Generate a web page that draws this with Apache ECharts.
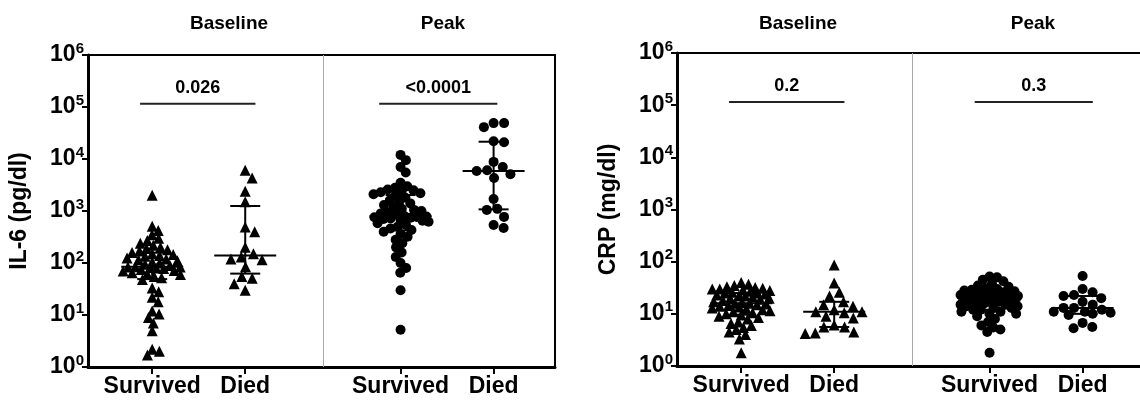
<!DOCTYPE html>
<html>
<head>
<meta charset="utf-8">
<script src="https://cdn.jsdelivr.net/npm/echarts@6/dist/echarts.min.js"></script>
<style>
html,body{margin:0;padding:0;background:#fff}
#main{width:1140px;height:404px}
</style>
</head>
<body>
<div id="main"></div>
<script>
// categories / labels
var groupNames = ["Survived", "Died", "Survived", "Died"];
var phaseNames = ["Baseline", "Peak"];
var yTickValues = [1, 10, 100, 1000, 10000, 100000, 1000000];

// IL-6 (pg/dl)
var il6BaseSurvived = [1.7, 2.0, 2.2, 5, 7, 9, 10.5, 12, 18, 22, 28, 33, 48, 52, 55, 60, 62, 65, 70, 72, 75, 78, 80, 82, 84, 84,
  85, 90, 95, 100, 105, 110, 115, 120, 125, 135, 140, 145, 150, 160, 170, 180, 190, 200, 220, 240, 270, 300, 350, 420, 510, 2000];
var il6BaseDied = [6100, 4300, 2400, 1500, 490, 400, 200, 150, 130, 120, 115, 85, 55, 51, 40, 30];
var il6PeakSurvived = [5.2, 30, 65, 80, 100, 130, 160, 200, 240, 280, 320, 360, 400, 430, 460, 500, 540, 580, 620, 650, 680,
  700, 720, 740, 760, 770, 780, 800, 850, 900, 950, 1000, 1050, 1100, 1200, 1300, 1400, 1500, 1600, 1800, 2000, 2100, 2200,
  2300, 2400, 2500, 2600, 2800, 3000, 3500, 5500, 7000, 9500, 12000];
var il6PeakDied = [49000, 41000, 49000, 21000, 22000, 8800, 7000, 5900, 5100, 6100, 4300, 1700, 1100, 1050, 770, 540, 470];
var il6PValues = ["0.026", "<0.0001"];

// CRP (mg/dl)
var crpBaseSurvived = [1.8, 3.3, 4.0, 4.5, 5.0, 5.5, 6.0, 6.5, 7.0, 8.0, 8.5, 9.0, 9.5, 10, 10.5, 11, 11.5, 12, 12.5, 13, 13.5,
  14, 14.5, 15, 15.5, 16, 16, 16.5, 17, 18, 19, 20, 20, 21, 22, 22, 23, 24, 25, 25, 26, 27, 28, 29, 30, 30, 31, 32, 33, 35, 37, 40];
var crpBaseDied = [86, 39, 26, 22, 17, 15, 14, 12, 11, 11, 10.5, 9, 8.3, 6.1, 5.6, 5.6, 4.5, 4.3, 4.2];
var crpPeakSurvived = [1.8, 4.5, 5, 5.5, 6, 7, 8, 9, 10, 10, 11, 11, 12, 12, 13, 13, 14, 14, 15, 15, 16, 16, 17, 17, 18, 18, 18,
  19, 19, 20, 20, 21, 21, 22, 22, 23, 23, 24, 25, 25, 26, 27, 28, 29, 30, 31, 33, 35, 38, 42, 45, 50, 52];
var crpPeakDied = [53, 30, 26, 23, 22, 20, 17, 15, 13, 13, 12, 11, 11, 10.5, 10, 9.5, 6.7, 5.6, 5.3];
var crpPValues = ["0.2", "0.3"];

// layout (x axis units, 1 unit = spacing between Survived and Died)
var GROUP_X = [0.69, 1.69, 3.36, 4.36];
var DIVIDER_X = 2.53;
var X_MAX = 5.02;
var SIG_SPANS = [
  [[0.56, 1.80], [3.13, 4.40]],
  [[0.56, 1.80], [3.20, 4.47]]
];
var SIG_Y = 115000;
var SWARM_HALF = 29;
var FONT = "'Liberation Sans', Arial, Helvetica, sans-serif";

var panels = [
  {name: "IL-6 (pg/dl)", groups: [il6BaseSurvived, il6BaseDied, il6PeakSurvived, il6PeakDied], p: il6PValues},
  {name: "CRP (mg/dl)", groups: [crpBaseSurvived, crpBaseDied, crpPeakSurvived, crpPeakDied], p: crpPValues}
];

var chart = echarts.init(document.getElementById("main"));

function quantile(arr, p) {
  var s = arr.slice().sort(function (a, b) { return a - b; });
  var pos = (s.length + 1) * p;
  if (pos <= 1) return s[0];
  if (pos >= s.length) return s[s.length - 1];
  var lo = Math.floor(pos);
  return s[lo - 1] + (pos - lo) * (s[lo] - s[lo - 1]);
}

// simple beeswarm: offsets in px, same order as values, kept within +-maxW
function swarm(values, yPx, d, maxW) {
  var pts = values.map(function (v, i) { return {i: i, y: yPx(v)}; });
  pts.sort(function (a, b) { return a.y - b.y; });
  var placed = [], out = [];
  pts.forEach(function (p) {
    var cands = [0];
    placed.forEach(function (q) {
      var dy = Math.abs(q.y - p.y);
      if (dy < d) {
        var dx = Math.sqrt(d * d - dy * dy);
        cands.push(q.x + dx, q.x - dx);
      }
    });
    for (var w = -maxW; w <= maxW; w += 3) cands.push(w);
    cands = cands.filter(function (c) { return Math.abs(c) <= maxW; });
    cands.sort(function (a, b) { return Math.abs(a) - Math.abs(b); });
    var best = null, bestGap = -1, bestC = 0;
    for (var k = 0; k < cands.length; k++) {
      var c = cands[k], gap = Infinity;
      for (var m = 0; m < placed.length; m++) {
        var ddx = placed[m].x - c, ddy = placed[m].y - p.y;
        gap = Math.min(gap, Math.sqrt(ddx * ddx + ddy * ddy));
      }
      if (gap >= d - 0.01) { best = c; break; }
      if (gap > bestGap) { bestGap = gap; bestC = c; }
    }
    if (best === null) best = bestC;
    placed.push({x: best, y: p.y});
    out[p.i] = best;
  });
  return out;
}

function supLabel(v) {
  var e = Math.round(Math.log(v) / Math.LN10);
  return "{b|10}{s|" + e + "}";
}

var grids = [], xAxes = [], yAxes = [];
[88, 677].forEach(function (left, gi) {
  grids.push({
    left: left, top: gi === 0 ? 55 : 53, width: 467, height: gi === 0 ? 312 : 313,
    show: true, borderColor: "#000", borderWidth: 2, backgroundColor: "transparent",
    outerBoundsMode: "none", containLabel: false
  });
  xAxes.push({
    type: "value", gridIndex: gi, min: 0, max: X_MAX,
    splitLine: {show: false},
    axisLine: {lineStyle: {color: "#000", width: 3}},
    axisTick: {show: true, customValues: GROUP_X, length: 7, lineStyle: {color: "#000", width: 2}},
    axisLabel: {
      customValues: GROUP_X, margin: 8, color: "#000", fontFamily: FONT, fontWeight: "bold", fontSize: 23,
      formatter: function (v) {
        var best = 0;
        GROUP_X.forEach(function (g, i) { if (Math.abs(g - v) < Math.abs(GROUP_X[best] - v)) best = i; });
        return groupNames[best];
      }
    }
  });
  yAxes.push({
    type: "log", logBase: 10, gridIndex: gi, min: yTickValues[0], max: yTickValues[yTickValues.length - 1],
    name: panels[gi].name, nameLocation: "middle", nameGap: 57,
    nameTextStyle: {color: "#000", fontFamily: FONT, fontWeight: "bold", fontSize: 23},
    splitLine: {show: false}, minorTick: {show: false},
    axisLine: {show: true, lineStyle: {color: "#000", width: 3}},
    axisTick: {show: true, length: 6, lineStyle: {color: "#000", width: 2}},
    axisLabel: {
      margin: 4, color: "#000", formatter: supLabel,
      rich: {
        b: {fontFamily: FONT, fontWeight: "bold", fontSize: 23, color: "#000"},
        s: {fontFamily: FONT, fontWeight: "bold", fontSize: 15, color: "#000", verticalAlign: "bottom", padding: [0, 0, 13, 0]}
      }
    }
  });
});

var titles = [];
[[224, 438], [793, 1028]].forEach(function (xs) {
  xs.forEach(function (x, i) {
    titles.push({text: phaseNames[i], left: x, top: 9, textAlign: "center",
      textStyle: {color: "#000", fontFamily: FONT, fontWeight: "bold", fontSize: 19}});
  });
});

chart.setOption({
  animation: false,
  backgroundColor: "#fff",
  title: titles,
  grid: grids,
  xAxis: xAxes,
  yAxis: yAxes,
  series: []
});

function renderBars(params, api) {
  var x = api.value(0);
  var mid = api.coord([x, api.value(1)]);
  var lo = api.coord([x, api.value(2)]);
  var hi = api.coord([x, api.value(3)]);
  var st = {stroke: "#000", lineWidth: 2};
  return {type: "group", children: [
    {type: "line", shape: {x1: mid[0], y1: hi[1], x2: mid[0], y2: lo[1]}, style: st},
    {type: "line", shape: {x1: mid[0] - 31, y1: mid[1], x2: mid[0] + 31, y2: mid[1]}, style: st},
    {type: "line", shape: {x1: mid[0] - 15, y1: hi[1], x2: mid[0] + 15, y2: hi[1]}, style: st},
    {type: "line", shape: {x1: mid[0] - 15, y1: lo[1], x2: mid[0] + 15, y2: lo[1]}, style: st}
  ]};
}

function makeSigRender(labels) {
  return function (params, api) {
    var a = api.coord([api.value(0), api.value(2)]);
    var b = api.coord([api.value(1), api.value(2)]);
    var txt = labels[params.dataIndex];
    return {type: "group", children: [
      {type: "line", shape: {x1: a[0], y1: a[1], x2: b[0], y2: b[1]}, style: {stroke: "#222", lineWidth: 2}},
      {type: "text", x: (a[0] + b[0]) / 2, y: a[1] - 7,
        style: {text: txt, fill: "#000", font: "bold 18px " + FONT,
          align: "center", verticalAlign: "bottom", textAlign: "center", textVerticalAlign: "bottom"}}
    ]};
  };
}

var series = [];
panels.forEach(function (panel, gi) {
  var x0 = chart.convertToPixel({gridIndex: gi}, [0, 1])[0];
  var x1 = chart.convertToPixel({gridIndex: gi}, [1, 1])[0];
  var pxPerUnit = x1 - x0;
  var yPx = function (v) { return chart.convertToPixel({gridIndex: gi}, [0, v])[1]; };
  var barData = [];
  panel.groups.forEach(function (vals, k) {
    var offs = swarm(vals, yPx, vals.length > 30 ? 7.5 : 10.5, SWARM_HALF);
    var data = vals.map(function (v, i) { return [GROUP_X[k] + offs[i] / pxPerUnit, v]; });
    var isBase = k < 2;
    series.push({
      type: "scatter", xAxisIndex: gi, yAxisIndex: gi, data: data,
      symbol: isBase ? "triangle" : "circle", symbolSize: isBase ? 11 : 10,
      itemStyle: {color: "#000", opacity: 1}, silent: true, z: 2,
      markLine: k === 0 ? {
        silent: true, symbol: "none", label: {show: false},
        lineStyle: {color: "#aaa", width: 1, type: "solid", opacity: 1},
        data: [{xAxis: DIVIDER_X}]
      } : undefined
    });
    barData.push([GROUP_X[k], quantile(vals, 0.5), quantile(vals, 0.25), quantile(vals, 0.75)]);
  });
  series.push({
    type: "custom", xAxisIndex: gi, yAxisIndex: gi, renderItem: renderBars, data: barData, z: 3, silent: true
  });
  series.push({
    type: "custom", xAxisIndex: gi, yAxisIndex: gi, renderItem: makeSigRender(panel.p), z: 3, silent: true,
    data: SIG_SPANS[gi].map(function (s) { return [s[0], s[1], SIG_Y]; })
  });
});

chart.setOption({series: series});
</script>
</body>
</html>
